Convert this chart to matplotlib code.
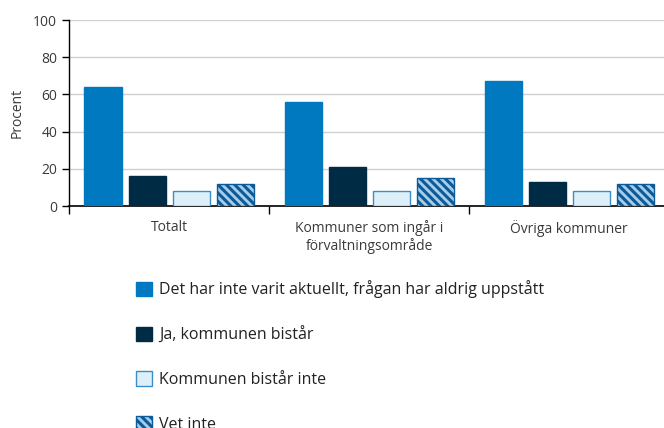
import matplotlib.pyplot as plt
import numpy as np

# Kategorier och värden (procent)
kategorier = ['Totalt', 'Kommuner som ingår i\nförvaltningsområde', 'Övriga kommuner']
serier = ['Det har inte varit aktuellt, frågan har aldrig uppstått',
          'Ja, kommunen bistår',
          'Kommunen bistår inte',
          'Vet inte']
ej_aktuellt = [64, 56, 67]
ja_bistar = [16, 21, 13]
bistar_inte = [8, 8, 8]
vet_inte = [12, 15, 12]

plt.rcParams['font.family'] = ['Open Sans', 'DejaVu Sans']
plt.rcParams['hatch.linewidth'] = 2.2
plt.rcParams['hatch.color'] = '#0b5a9a'

fig = plt.figure(figsize=(6.64, 4.28), dpi=100)
ax = fig.add_axes([69 / 664, 222 / 428, 600 / 664, 186 / 428])

x = np.arange(len(kategorier))
bredd = 0.185
steg = 0.22
stilar = [
    dict(color='#0079c1', edgecolor='#0079c1'),
    dict(color='#002b45', edgecolor='#002b45'),
    dict(color='#ddeff8', edgecolor='#3a8fca', linewidth=1),
    dict(facecolor='#a8cde8', edgecolor='#0b5a9a', hatch='\\\\\\\\', linewidth=1),
]
for i, (vals, stil) in enumerate(zip([ej_aktuellt, ja_bistar, bistar_inte, vet_inte], stilar)):
    ax.bar(x + (i - 1.5) * steg, vals, bredd, label=serier[i], zorder=3, **stil)

ax.set_xlim(-0.5, 2.5)
ax.set_ylim(0, 100)
ax.set_yticks([0, 20, 40, 60, 80, 100])
ax.yaxis.grid(True, color='#d0d0d0', linewidth=1)
ax.set_axisbelow(True)
ax.tick_params(axis='y', labelsize=10, labelcolor='#3a3a3a', length=5, width=1, color='black')
ax.set_ylabel('Procent', fontsize=10, color='#3a3a3a', labelpad=6)

ax.set_xticks([-0.5, 0.5, 1.5, 2.5])
ax.set_xticklabels([])
ax.tick_params(axis='x', which='major', length=6, width=1)
ax.set_xticks(x, minor=True)
ax.set_xticklabels(kategorier, minor=True, fontsize=10, color='#3a3a3a')
ax.tick_params(axis='x', which='minor', length=0, pad=10)

for s in ['top', 'right']:
    ax.spines[s].set_visible(False)
ax.spines['left'].set_linewidth(1)
ax.spines['bottom'].set_linewidth(1.2)

handles, labels = ax.get_legend_handles_labels()
fig.legend(handles, labels, loc='upper left', bbox_to_anchor=(122 / 664, 1 - 266 / 428),
           frameon=False, fontsize=11.5, handlelength=1.0, handleheight=1.0,
           handletextpad=0.42, labelspacing=1.75, labelcolor='#222222')

fig.savefig('out.png', dpi=100)
